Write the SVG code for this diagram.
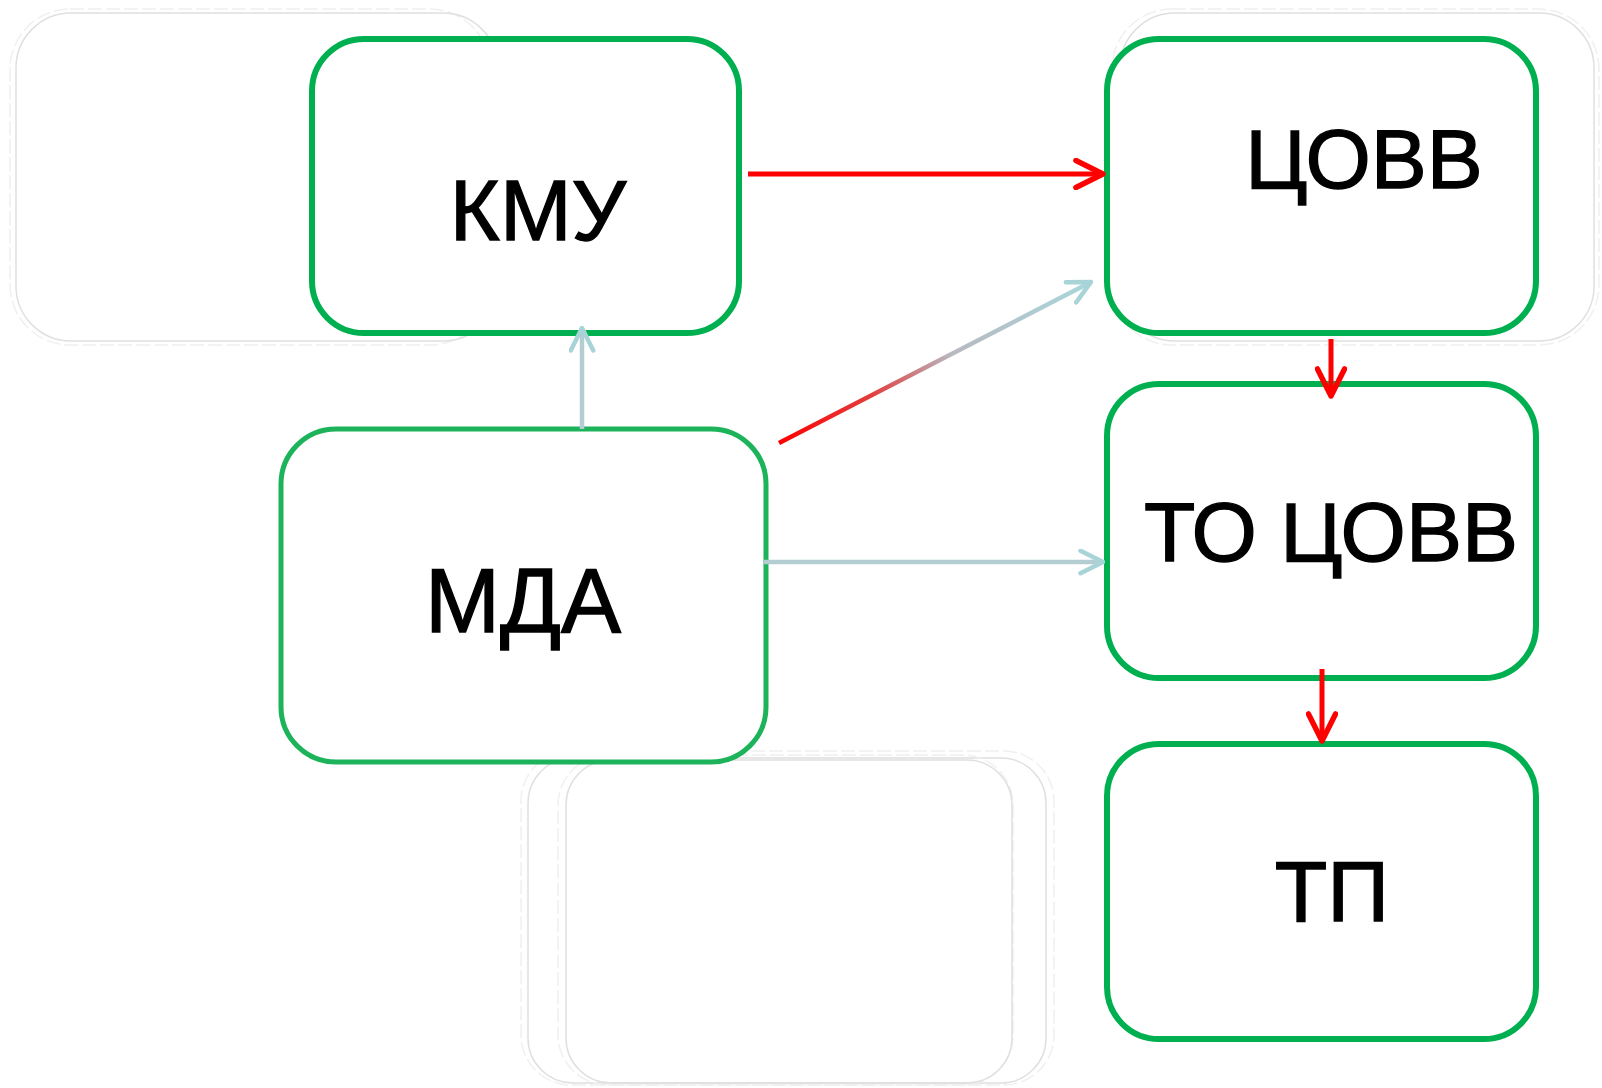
<svg xmlns="http://www.w3.org/2000/svg" width="1602" height="1088" viewBox="0 0 1602 1088">
<style>
.node{fill:#fff;stroke:#00B050;stroke-width:6}
.ghost{fill:none;stroke:#e0e0e0;stroke-width:1.5}
.ghost2{fill:none;stroke:#f0f0f0;stroke-width:1.5;stroke-dasharray:14 4}
.lbl{font-family:"Liberation Sans",Arial,sans-serif;fill:#000;stroke:#000;stroke-width:1.3;text-anchor:middle}
.red{stroke:#FF0000;stroke-width:5;fill:none}
.blue{stroke:#B4CDD2;stroke-width:4.5;fill:none}
</style>
<defs>
<marker id="ar" viewBox="0 0 12 12" refX="11" refY="6" markerWidth="6.5" markerHeight="6.5" orient="auto" markerUnits="strokeWidth">
<path d="M1,1 L11,6 L1,11" fill="none" stroke="#FF0000" stroke-width="2" stroke-linecap="round" stroke-linejoin="round"/>
</marker>
<marker id="ab" viewBox="0 0 12 12" refX="11" refY="6" markerWidth="6" markerHeight="6" orient="auto" markerUnits="strokeWidth">
<path d="M1,1 L11,6 L1,11" fill="none" stroke="#A8D4D8" stroke-width="2" stroke-linecap="round" stroke-linejoin="round"/>
</marker>
<linearGradient id="g1" gradientUnits="userSpaceOnUse" x1="779" y1="443" x2="1091" y2="280">
<stop offset="0" stop-color="#FF0000"/>
<stop offset="0.3" stop-color="#E04040"/>
<stop offset="0.55" stop-color="#B8B8C0"/>
<stop offset="1" stop-color="#A8D8DC"/>
</linearGradient>
</defs>
<rect width="1602" height="1088" fill="#fff"/>
<g id="ghosts">
<rect class="ghost2" x="10" y="9" width="480" height="336" rx="60"/>
<rect class="ghost" x="16" y="13" width="482" height="328" rx="55"/>
<rect class="ghost2" x="1112" y="9" width="487" height="336" rx="60"/>
<rect class="ghost" x="1120" y="13" width="474" height="328" rx="55"/>
<rect class="ghost2" x="521" y="751" width="533" height="334" rx="50"/>
<rect class="ghost" x="528" y="758" width="518" height="325" rx="45"/>
<rect class="ghost2" x="558" y="755" width="455" height="330" rx="50"/>
<rect class="ghost" x="566" y="760" width="446" height="323" rx="45"/>
</g>
<g id="n-kmu">
<rect class="node" x="312" y="39" width="427" height="294" rx="52"/>
<text class="lbl" x="538" y="240" font-size="86">КМУ</text>
</g>
<g id="n-covv">
<rect class="node" x="1107" y="39" width="429" height="294" rx="52"/>
<text class="lbl" x="1364" y="188" font-size="84">ЦОВВ</text>
</g>
<g id="n-tocovv">
<rect class="node" x="1107" y="384" width="429" height="294" rx="52"/>
<text class="lbl" x="1331" y="561" font-size="84">ТО ЦОВВ</text>
</g>
<g id="n-tp">
<rect class="node" x="1107" y="744" width="429" height="295" rx="52"/>
<text class="lbl" x="1332" y="921" font-size="86">ТП</text>
</g>
<g id="n-mda">
<rect class="node" x="281" y="429" width="485" height="333" rx="55" style="stroke:#1DB35A;stroke-width:5"/>
<text class="lbl" x="523" y="632" font-size="90">МДА</text>
</g>
<g id="connectors">
<line class="red" x1="748" y1="174" x2="1103" y2="174" marker-end="url(#ar)"/>
<line class="red" x1="1331" y1="339" x2="1331" y2="396" marker-end="url(#ar)"/>
<line class="red" x1="1322" y1="669" x2="1322" y2="741" marker-end="url(#ar)"/>
<line class="blue" x1="582" y1="429" x2="582" y2="328" marker-end="url(#ab)"/>
<line x1="779" y1="443" x2="1091" y2="282" stroke="url(#g1)" stroke-width="4.5" marker-end="url(#ab)"/>
<line class="blue" x1="764" y1="562" x2="1103" y2="562" marker-end="url(#ab)"/>
</g>
</svg>
